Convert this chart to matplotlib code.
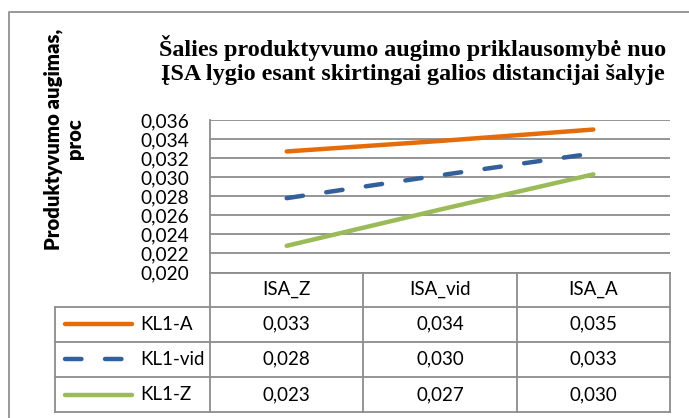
import numpy as np
import matplotlib
matplotlib.use("Agg")
import matplotlib.pyplot as plt
import matplotlib.transforms as mtransforms
from matplotlib.lines import Line2D

# Duomenys
kategorijos = ["ISA_Z", "ISA_vid", "ISA_A"]
serijos = ["KL1-A", "KL1-vid", "KL1-Z"]
kl1_a = [0.0327, 0.0338, 0.0350]
kl1_vid = [0.0278, 0.0302, 0.0325]
kl1_z = [0.0228, 0.0266, 0.0303]
lentele_a = ["0,033", "0,034", "0,035"]
lentele_vid = ["0,028", "0,030", "0,033"]
lentele_z = ["0,023", "0,027", "0,030"]
y_ticks = [0.020, 0.022, 0.024, 0.026, 0.028, 0.030, 0.032, 0.034, 0.036]

W, H = 689, 418
pilka = "#8c8c8c"
sans = ["Lato", "DejaVu Sans"]


def fx(px):
    return px / W


def fy(py):
    return 1 - py / H


fig = plt.figure(figsize=(W / 100, H / 100), dpi=100)
fig.patch.set_facecolor("white")

# Diagramos rėmelis
fig.add_artist(Line2D([fx(8.5), fx(8.5), fx(689)], [fy(418), fy(11.5), fy(11.5)],
                      transform=fig.transFigure, color="#999999", lw=1.4))

ax = fig.add_axes([fx(210), fy(272.5), fx(670) - fx(210), fy(120) - fy(272.5)])
ax.set_xlim(-0.5, 2.5)
ax.set_ylim(0.020, 0.036)
ax.set_yticks(y_ticks)
ax.set_yticklabels([f"{v:.3f}".replace(".", ",") for v in y_ticks],
                   fontfamily=sans, fontsize=13.8)
ax.set_xticks([])
ax.tick_params(axis="y", length=0, pad=15)
ax.grid(axis="y", color=pilka, lw=1.3)
ax.set_axisbelow(True)
for s in ["top", "right", "bottom"]:
    ax.spines[s].set_visible(False)
ax.spines["left"].set_color(pilka)
ax.spines["left"].set_linewidth(1.3)

x = np.arange(len(kategorijos))
stiliai = [
    dict(color="#E46C0A", lw=3.2, solid_capstyle="round"),
    dict(color="#33609A", lw=3.2, dashes=(3.7, 5.3), dash_capstyle="round"),
    dict(color="#9BBB59", lw=3.2, solid_capstyle="round"),
]
for vals, st in zip([kl1_a, kl1_vid, kl1_z], stiliai):
    ax.plot(x, vals, **st)

# Y ašies pavadinimas
fig.text(fx(63.5), fy(139), "Produktyvumo augimas,\nproc", rotation=90,
         ha="center", va="center", fontfamily=sans, fontweight="heavy",
         fontsize=14.6, linespacing=1.1)

# Pavadinimas
fig.text(fx(413), fy(60), "Šalies produktyvumo augimo priklausomybė nuo\n"
         "ĮSA lygio esant skirtingai galios distancijai šalyje",
         ha="center", va="center", fontfamily="Liberation Serif",
         fontweight="bold", fontsize=17.4, linespacing=1.2)

# Duomenų lentelė
bl = mtransforms.blended_transform_factory(ax.transData, fig.transFigure)
eil = [272.5, 306.7, 341.7, 376.7, 412.3]


def linija(xs, ys, tr=fig.transFigure):
    fig.add_artist(Line2D(xs, ys, transform=tr, color=pilka, lw=1.3,
                          solid_capstyle="projecting"))


linija([fx(210), fx(670)], [fy(eil[0])] * 2)
for yy in eil[1:]:
    linija([fx(55), fx(670)], [fy(yy)] * 2)
linija([fx(55), fx(55)], [fy(eil[1]), fy(eil[-1])])
for xb in [-0.5, 0.5, 1.5, 2.5]:
    linija([xb, xb], [fy(eil[0]), fy(eil[-1])], bl)

for i, k in enumerate(kategorijos):
    fig.text(i, fy((eil[0] + eil[1]) / 2), k, transform=bl, ha="center",
             va="center", fontfamily=sans, fontsize=13.5)

for r, (vard, reiksmes, st) in enumerate(zip(serijos, [lentele_a, lentele_vid, lentele_z], stiliai)):
    yc = fy((eil[r + 1] + eil[r + 2]) / 2)
    for i, v in enumerate(reiksmes):
        fig.text(i, yc, v, transform=bl, ha="center", va="center",
                 fontfamily=sans, fontsize=13.5)
    fig.add_artist(Line2D([fx(65), fx(132)], [yc, yc], transform=fig.transFigure, **st))
    fig.text(fx(140), yc, vard, ha="left", va="center", fontfamily=sans, fontsize=13.5)

fig.savefig("out.png", dpi=100)
